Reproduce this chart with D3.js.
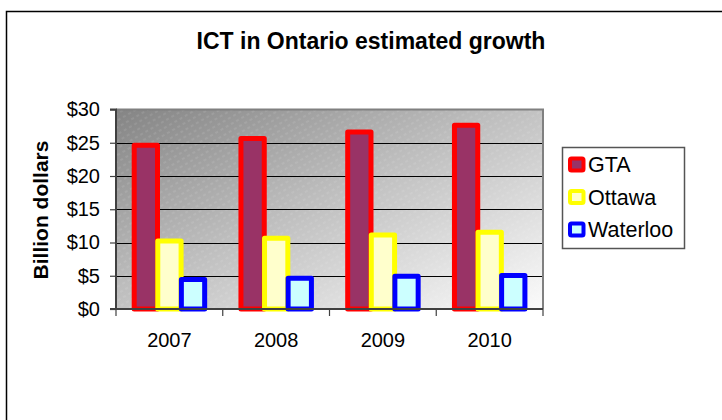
<!DOCTYPE html>
<html>
<head>
<meta charset="utf-8">
<script src="https://cdn.jsdelivr.net/npm/d3@7"></script>
<style>
  html, body { margin: 0; padding: 0; background: #fff; }
  svg { display: block; font-family: Arial, "Liberation Sans", sans-serif; }
</style>
</head>
<body>
<svg id="chart" width="722" height="420"></svg>
<script>
// Chart data
const years = ["2007", "2008", "2009", "2010"];
const seriesNames = ["GTA", "Ottawa", "Waterloo"];
const gta = [25, 26, 27, 28];
const ottawa = [10.6, 11.0, 11.5, 11.9];
const waterloo = [4.8, 5.0, 5.3, 5.4];
const yTicks = [0, 5, 10, 15, 20, 25, 30];

const seriesValues = [gta, ottawa, waterloo];
const fills = ["#993366", "#FFFFCC", "#CCFFFF"];
const strokes = ["#FF0000", "#FFFF00", "#0000FF"];

const svg = d3.select("#chart");

// Outer chart frame (runs off the right and bottom edges)
svg.append("rect")
  .attr("x", 6.5).attr("y", 11.5)
  .attr("width", 760).attr("height", 440)
  .attr("fill", "#fff").attr("stroke", "#000").attr("stroke-width", 1.5);

// Plot area geometry
const plot = { left: 116, right: 543, top: 109.5, bottom: 309 };

const x = d3.scaleBand().domain(years).range([plot.left, plot.right]).padding(0);
const y = d3.scaleLinear().domain([0, 30]).range([plot.bottom, plot.top]);

// Defs: grey gradient plus fine diagonal texture
const defs = svg.append("defs");
const grad = defs.append("linearGradient")
  .attr("id", "plotGrad")
  .attr("x1", 0).attr("y1", 0).attr("x2", 1).attr("y2", 1);
grad.append("stop").attr("offset", "0%").attr("stop-color", "#848484");
grad.append("stop").attr("offset", "45%").attr("stop-color", "#bdbdbd");
grad.append("stop").attr("offset", "100%").attr("stop-color", "#fbfbfb");

const pat = defs.append("pattern")
  .attr("id", "texture")
  .attr("width", 6).attr("height", 6)
  .attr("patternUnits", "userSpaceOnUse")
  .attr("patternTransform", "rotate(-30)");
pat.append("line")
  .attr("x1", 0).attr("y1", 1).attr("x2", 3).attr("y2", 1)
  .attr("stroke", "#fff").attr("stroke-opacity", 0.18).attr("stroke-width", 1);

svg.append("rect")
  .attr("x", plot.left).attr("y", plot.top)
  .attr("width", plot.right - plot.left).attr("height", plot.bottom - plot.top)
  .attr("fill", "url(#plotGrad)");
svg.append("rect")
  .attr("x", plot.left).attr("y", plot.top)
  .attr("width", plot.right - plot.left).attr("height", plot.bottom - plot.top)
  .attr("fill", "url(#texture)");

// Horizontal gridlines
svg.append("g").selectAll("line")
  .data(yTicks.filter(t => t > 0 && t < 30))
  .join("line")
  .attr("x1", plot.left).attr("x2", plot.right)
  .attr("y1", d => Math.round(y(d)) + 0.5).attr("y2", d => Math.round(y(d)) + 0.5)
  .attr("stroke", "#000").attr("stroke-width", 1);

// Plot border (top and right)
svg.append("path")
  .attr("d", `M${plot.left},${plot.top} H${plot.right} V${plot.bottom}`)
  .attr("fill", "none").attr("stroke", "#808080").attr("stroke-width", 2);

// Bars: inner band scale for the three series, bars slightly overlapping
const groupPad = 15.7;
const xs = d3.scaleBand().domain(seriesNames)
  .range([groupPad, x.bandwidth() - groupPad - 4.6]).padding(0);
const barW = xs.step() * 1.2;
const sw = 5;

const barData = [];
years.forEach((yr, i) => {
  seriesNames.forEach((s, j) => {
    barData.push({ year: yr, series: s, idx: j, value: seriesValues[j][i] });
  });
});

svg.append("g").selectAll("rect")
  .data(barData)
  .join("rect")
  .attr("x", d => x(d.year) + xs(d.series) + sw / 2)
  .attr("y", d => y(d.value) + sw / 2)
  .attr("width", barW - sw)
  .attr("height", d => y(0) - y(d.value) - sw / 2)
  .attr("fill", d => fills[d.idx])
  .attr("stroke", d => strokes[d.idx])
  .attr("stroke-width", sw)
  .attr("stroke-linejoin", "round");

// Y axis
const yAxis = d3.axisLeft(y).tickValues(yTicks).tickSize(6).tickPadding(10)
  .tickFormat(d => "$" + d);
const yg = svg.append("g").attr("transform", `translate(${plot.left},0)`).call(yAxis);
yg.select(".domain").attr("stroke", "#404040").attr("stroke-width", 2)
  .attr("d", `M-6,${plot.top}H0V${plot.bottom}H-6`);
yg.selectAll(".tick line").attr("stroke", "#404040").attr("stroke-width", 1.2);
yg.selectAll(".tick text")
  .attr("font-size", 20).attr("fill", "#000")
  .attr("font-family", "Arial, 'Liberation Sans', sans-serif");

// X axis
const xAxis = d3.axisBottom(x).tickSize(0).tickPadding(24);
const xg = svg.append("g").attr("transform", `translate(0,${plot.bottom})`).call(xAxis);
xg.select(".domain").attr("stroke", "#404040").attr("stroke-width", 2)
  .attr("d", `M${plot.left},0H${plot.right}`);
xg.selectAll(".tick text")
  .attr("font-size", 20).attr("fill", "#000")
  .attr("font-family", "Arial, 'Liberation Sans', sans-serif");

// Category separator ticks
const boundaries = years.map(d => x(d)).concat([plot.right]);
svg.append("g").selectAll("line")
  .data(boundaries)
  .join("line")
  .attr("x1", d => d).attr("x2", d => d)
  .attr("y1", plot.bottom).attr("y2", plot.bottom + 7)
  .attr("stroke", "#404040").attr("stroke-width", 1.2);

// Title
svg.append("text")
  .attr("x", 371).attr("y", 48.5)
  .attr("text-anchor", "middle")
  .attr("font-size", 23).attr("font-weight", "bold")
  .text("ICT in Ontario estimated growth");

// Y axis title
svg.append("text")
  .attr("transform", "translate(48,210) rotate(-90)")
  .attr("text-anchor", "middle")
  .attr("font-size", 21).attr("font-weight", "bold")
  .text("Billion dollars");

// Legend
const legend = svg.append("g");
legend.append("rect")
  .attr("x", 562.5).attr("y", 147.5)
  .attr("width", 122).attr("height", 101)
  .attr("fill", "#fff").attr("stroke", "#555").attr("stroke-width", 1.5);

const items = legend.selectAll("g.item")
  .data(seriesNames)
  .join("g")
  .attr("class", "item")
  .attr("transform", (d, i) => `translate(568,${156.5 + i * 32.5})`);
items.append("rect")
  .attr("x", 2).attr("y", 2)
  .attr("width", 13.5).attr("height", 12)
  .attr("rx", 1.5)
  .attr("fill", (d, i) => fills[i])
  .attr("stroke", (d, i) => strokes[i])
  .attr("stroke-width", 4);
items.append("text")
  .attr("x", 20).attr("y", 8)
  .attr("dy", "0.36em")
  .attr("font-size", 21.5)
  .text(d => d);
</script>
</body>
</html>
